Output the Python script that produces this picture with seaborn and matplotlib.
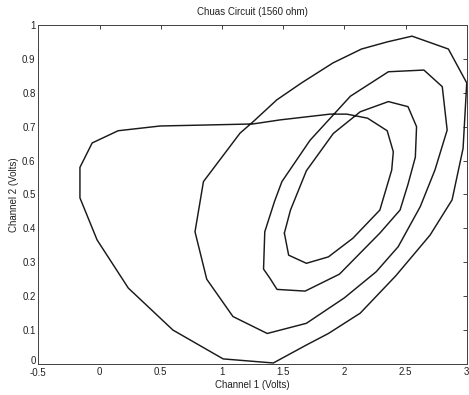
import matplotlib
matplotlib.use("Agg")
import matplotlib.pyplot as plt
import matplotlib.transforms as mtransforms
import seaborn as sns
import pandas as pd

# Trajectory points (Channel 1, Channel 2), in drawing order
ch1 = [1.51, 1.56, 1.69, 1.91, 2.13, 2.36, 2.52, 2.59, 2.58, 2.52, 2.455, 2.29, 1.96, 1.68,
       1.45, 1.39, 1.34, 1.35, 1.43, 1.49, 1.72, 2.05, 2.36, 2.65, 2.80, 2.84, 2.74, 2.62,
       2.44, 2.26, 2.00, 1.69, 1.37, 1.09, 0.876, 0.78, 0.849, 1.148, 1.253, 1.448, 1.65,
       1.907, 2.14, 2.35, 2.553, 2.85, 3.0, 2.97, 2.88, 2.70, 2.42, 2.13, 1.87, 1.69, 1.42,
       1.01, 0.6, 0.235, -0.02, -0.16, -0.16, -0.06, 0.152, 0.495, 0.88, 1.253, 1.475,
       1.883, 2.02, 2.19, 2.35, 2.40, 2.387, 2.29, 2.07, 1.87, 1.69, 1.545, 1.51]
ch2 = [0.386, 0.454, 0.57, 0.68, 0.744, 0.774, 0.759, 0.70, 0.61, 0.53, 0.454, 0.386, 0.265,
       0.215, 0.22, 0.254, 0.28, 0.39, 0.48, 0.538, 0.66, 0.79, 0.862, 0.867, 0.818, 0.69,
       0.572, 0.464, 0.346, 0.272, 0.195, 0.12, 0.09, 0.14, 0.25, 0.39, 0.538, 0.681, 0.714,
       0.779, 0.829, 0.888, 0.929, 0.95, 0.967, 0.929, 0.829, 0.636, 0.484, 0.38, 0.26, 0.15,
       0.09, 0.056, 0.003, 0.015, 0.1, 0.224, 0.366, 0.49, 0.58, 0.652, 0.688, 0.702, 0.705,
       0.708, 0.72, 0.737, 0.737, 0.725, 0.688, 0.626, 0.572, 0.454, 0.371, 0.316, 0.297,
       0.321, 0.386]

x_ticks = [-0.5, 0, 0.5, 1, 1.5, 2, 2.5, 3]
x_tick_labels = ["-0.5", "0", "0.5", "1", "1.5", "2", "2.5", "3"]
y_ticks = [0, 0.1, 0.2, 0.3, 0.4, 0.5, 0.6, 0.7, 0.8, 0.9, 1]
y_tick_labels = ["0", "0.1", "0.2", "0.3", "0.4", "0.5", "0.6", "0.7", "0.8", "0.9", "1"]

df = pd.DataFrame({"Channel 1": ch1, "Channel 2": ch2, "order": range(len(ch1))})

sns.set_style("white")
plt.rcParams['font.family'] = ['Liberation Sans', 'DejaVu Sans']

fig = plt.figure(figsize=(4.69, 3.95), dpi=100)
ax = fig.add_axes([0.0817, 0.0785, 0.9135, 0.8583])

sns.lineplot(data=df, x="Channel 1", y="Channel 2", sort=False, estimator=None,
             color="#1a1a1a", linewidth=1.05, ax=ax)

ax.set_xlim(-0.5, 3)
ax.set_ylim(0, 1)
ax.set_xticks(x_ticks)
ax.set_xticklabels(x_tick_labels)
ax.set_yticks(y_ticks)
ax.set_yticklabels(y_tick_labels)
ax.tick_params(direction='in', top=True, right=True, length=3, width=0.6,
               labelsize=7, pad=2, colors="#222222")
for s in ax.spines.values():
    s.set_color("#444444")
    s.set_linewidth(0.7)
    s.set_linestyle((0, (1, 0.6)))

# nudge the corner labels apart, as in the reference
ylab0 = ax.get_yticklabels()[0]
ylab0.set_transform(ylab0.get_transform() + mtransforms.ScaledTranslation(0, 3 / 72, fig.dpi_scale_trans))
xlab0 = ax.get_xticklabels()[0]
xlab0.set_transform(xlab0.get_transform() + mtransforms.ScaledTranslation(0, -1 / 72, fig.dpi_scale_trans))

ax.set_title("Chuas Circuit (1560 ohm)", fontsize=7, pad=7, color="#222222")
ax.set_xlabel("Channel 1 (Volts)", fontsize=7, labelpad=1, color="#222222")
ax.set_ylabel("Channel 2 (Volts)", fontsize=7, labelpad=2, color="#222222")

fig.savefig("out.png", dpi=100)
